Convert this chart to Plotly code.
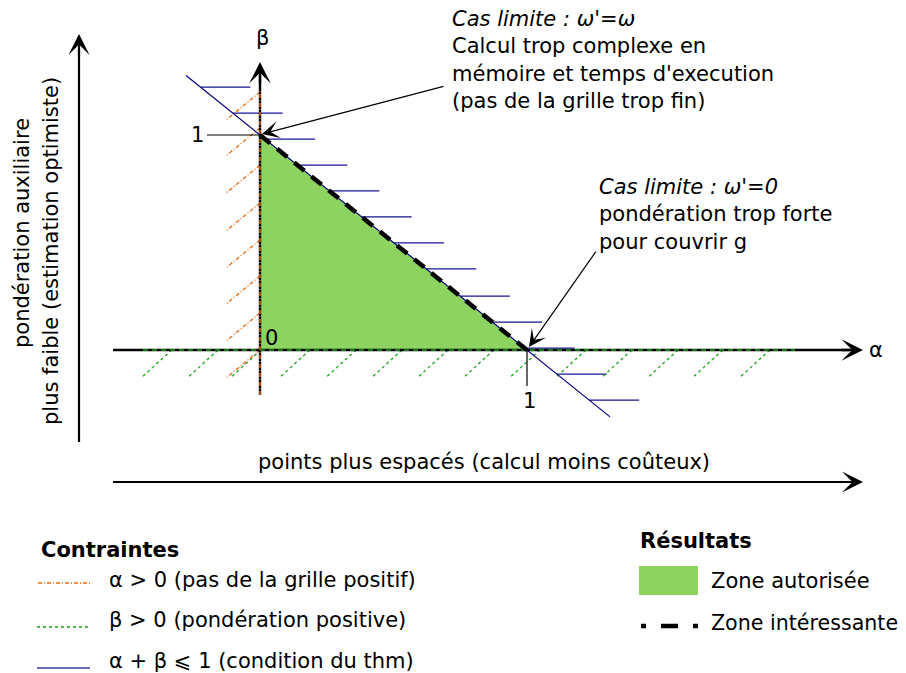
import plotly.graph_objects as go

W, H = 906, 673
PAD = 8             # default page margin of the html body
X0, Y0 = 260, 350   # page pixel position of origin (alpha=0, beta=0)
SX, SY = 267, 215   # pixels per unit on alpha / beta

def ax(px):
    return (px - X0) / SX

def by(py):
    return (Y0 - py) / SY

# ---------------- data ----------------
triangle_alpha = [0, 1, 0, 0]
triangle_beta = [0, 0, 1, 0]
hyp_alpha = [0, 1]
hyp_beta = [1, 0]
blue_line_alpha = [-0.277, 1.311]          # alpha + beta = 1
blue_hatch_beta = [1.223, 1.102, 0.981, 0.860, 0.740, 0.619, 0.498,
                   0.377, 0.251, 0.130, 0.009, -0.112, -0.233]
blue_hatch_len = 0.187
orange_hatch_beta = [1.200, 1.033, 0.860, 0.684, 0.512, 0.344, 0.172, 0.0]
orange_dx, orange_dy = -0.127, -0.130
green_hatch_alpha = [-0.330, -0.157, 0.004, 0.187, 0.360, 0.532, 0.704,
                     0.876, 1.049, 1.221, 1.393, 1.566, 1.734, 1.910]
green_dx, green_dy = -0.112, -0.126

FONT = "DejaVu Sans"
FS = 21
ORANGE = "#e66a12"
GREEN = "#1f9f1f"
NAVY = "#000080"
FILL = "#8dd35f"

fig = go.Figure()

# allowed zone
fig.add_trace(go.Scatter(x=triangle_alpha, y=triangle_beta, mode="lines",
                         fill="toself", fillcolor=FILL, line=dict(width=0),
                         hoverinfo="skip"))

# hatches
bx, byy = [], []
for b in blue_hatch_beta:
    a = 1 - b
    bx += [a, a + blue_hatch_len, None]
    byy += [b, b, None]
fig.add_trace(go.Scatter(x=bx, y=byy, mode="lines",
                         line=dict(color="#16168e", width=1.2),
                         hoverinfo="skip"))
ox, oy = [], []
for b in orange_hatch_beta:
    ox += [0, orange_dx, None]
    oy += [b, b + orange_dy, None]
fig.add_trace(go.Scatter(x=ox, y=oy, mode="lines",
                         line=dict(color=ORANGE, width=1.3, dash="4px,2px,1px,2px"),
                         hoverinfo="skip"))
gx, gy = [], []
for a in green_hatch_alpha:
    gx += [a, a + green_dx, None]
    gy += [0, green_dy, None]
fig.add_trace(go.Scatter(x=gx, y=gy, mode="lines",
                         line=dict(color=GREEN, width=1.3, dash="3px,3px"),
                         hoverinfo="skip"))

# axes lines
fig.add_trace(go.Scatter(x=[ax(113), ax(850)], y=[0, 0], mode="lines",
                         line=dict(color="black", width=2.4), hoverinfo="skip"))
fig.add_trace(go.Scatter(x=[0, 0], y=[by(395), by(75)], mode="lines",
                         line=dict(color="black", width=2.4), hoverinfo="skip"))
# constraint overlays on axes
fig.add_trace(go.Scatter(x=[ax(143), ax(795)], y=[0, 0], mode="lines",
                         line=dict(color=GREEN, width=1.4, dash="5px,4px"),
                         hoverinfo="skip"))
fig.add_trace(go.Scatter(x=[0, 0], y=[by(395), by(90)], mode="lines",
                         line=dict(color=ORANGE, width=1.4, dash="4px,2px,1px,2px"),
                         hoverinfo="skip"))

# alpha + beta = 1 line
fig.add_trace(go.Scatter(x=blue_line_alpha, y=[1 - a for a in blue_line_alpha],
                         mode="lines", line=dict(color=NAVY, width=1.2),
                         hoverinfo="skip"))
# interesting zone (dashed)
fig.add_trace(go.Scatter(x=hyp_alpha, y=hyp_beta, mode="lines",
                         line=dict(color="black", width=4.5, dash="13px,9px"),
                         hoverinfo="skip"))

# ticks
fig.add_trace(go.Scatter(x=[ax(207), 0], y=[1, 1], mode="lines",
                         line=dict(color="black", width=1.2), hoverinfo="skip"))
fig.add_trace(go.Scatter(x=[1, 1], y=[0, by(386)], mode="lines",
                         line=dict(color="black", width=1.2), hoverinfo="skip"))

# big outer arrows
fig.add_trace(go.Scatter(x=[ax(79), ax(79)], y=[by(442), by(50)], mode="lines",
                         line=dict(color="black", width=2.2), hoverinfo="skip"))
fig.add_trace(go.Scatter(x=[ax(113), ax(850)], y=[by(482), by(482)], mode="lines",
                         line=dict(color="black", width=2.2), hoverinfo="skip"))

# legend samples
fig.add_trace(go.Scatter(x=[ax(38), ax(90)], y=[by(583), by(583)], mode="lines",
                         line=dict(color=ORANGE, width=1.3, dash="4px,2px,1px,2px"),
                         hoverinfo="skip"))
fig.add_trace(go.Scatter(x=[ax(37), ax(90)], y=[by(627), by(627)], mode="lines",
                         line=dict(color=GREEN, width=1.3, dash="3px,3px"),
                         hoverinfo="skip"))
fig.add_trace(go.Scatter(x=[ax(37), ax(90)], y=[by(668), by(668)], mode="lines",
                         line=dict(color="#3a3aa0", width=1.4),
                         hoverinfo="skip"))
fig.add_trace(go.Scatter(x=[ax(641), ax(698)], y=[by(626), by(626)], mode="lines",
                         line=dict(color="black", width=4.5,
                                   dash="5px,15px,17px,15px,5px,100px"),
                         hoverinfo="skip"))

shapes = [dict(type="rect", xref="x", yref="y", x0=ax(639), x1=ax(698),
               y0=by(595), y1=by(566), fillcolor=FILL, line=dict(width=0),
               layer="above")]

annotations = []

def arrow(tx, ty, sx, sy, w, size):
    annotations.append(dict(x=ax(tx), y=by(ty), ax=ax(sx), ay=by(sy),
                            xref="x", yref="y", axref="x", ayref="y",
                            text="", showarrow=True, arrowhead=3,
                            arrowwidth=w, arrowsize=size, arrowcolor="black",
                            standoff=0, startstandoff=0))

arrow(863, 350, 840, 350, 2.4, 1.5)
arrow(260, 62, 260, 85, 2.4, 1.5)
arrow(79, 34, 79, 57, 2.2, 1.6)
arrow(863, 482, 840, 482, 2.2, 1.6)
arrow(262, 134, 445, 86, 1.2, 2.4)
arrow(529, 347, 597, 250, 1.2, 2.4)

def txt(s, px, py, xanchor="center", yanchor="middle", size=FS, angle=0, align="left"):
    annotations.append(dict(x=ax(px), y=by(py), xref="x", yref="y", text=s,
                            showarrow=False, xanchor=xanchor, yanchor=yanchor,
                            textangle=angle, align=align, borderpad=0,
                            font=dict(family=FONT, size=size, color="black")))

txt("β", 262, 38)
txt("α", 876, 350)
txt("1", 197, 135)
txt("0", 271, 338)
txt("1", 529, 401)
txt("<i>Cas limite : ω'=ω</i><br>Calcul trop complexe en<br>mémoire et temps d'execution<br>(pas de la grille trop fin)",
    451, 60, xanchor="left")
txt("<i>Cas limite : ω'=0</i><br>pondération trop forte<br>pour couvrir g",
    598, 214.5, xanchor="left")
txt("pondération auxiliaire", 22, 233, angle=-90)
txt("plus faible (estimation optimiste)", 51, 251, angle=-90)
txt("points plus espacés (calcul moins coûteux)", 484, 462)
txt("<b>Contraintes</b>", 40, 550, xanchor="left")
txt("α > 0 (pas de la grille positif)", 108, 580, xanchor="left")
txt("β > 0 (pondération positive)", 108, 620, xanchor="left")
txt("α + β ⩽ 1 (condition du thm)", 108, 661, xanchor="left")
txt("<b>Résultats</b>", 639, 541, xanchor="left")
txt("Zone autorisée", 710, 581, xanchor="left")
txt("Zone intéressante", 710, 623, xanchor="left", size=20.6)

# figure area covers page pixels PAD..W and PAD..H
fig.update_layout(
    width=W - PAD, height=H - PAD, margin=dict(l=0, r=0, t=0, b=0),
    plot_bgcolor="white", paper_bgcolor="white", showlegend=False,
    xaxis=dict(range=[ax(PAD), ax(W)], visible=False, fixedrange=True),
    yaxis=dict(range=[by(H), by(PAD)], visible=False, fixedrange=True),
    shapes=shapes, annotations=annotations,
)

fig.write_html("out.html")
